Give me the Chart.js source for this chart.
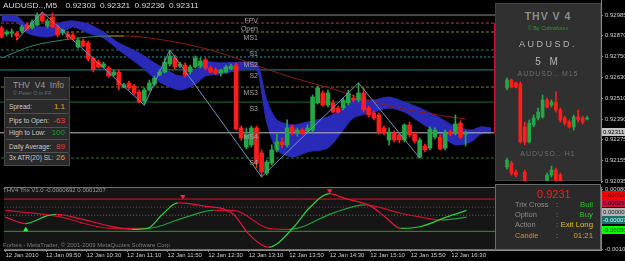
<!DOCTYPE html>
<html><head><meta charset="utf-8">
<script src="https://cdn.jsdelivr.net/npm/chart.js@4.4.1/dist/chart.umd.min.js"></script>
<style>
*{box-sizing:border-box}
html,body{margin:0;padding:0;background:#000;overflow:hidden}
#wrap{position:relative;width:625px;height:261px;background:#000;font-family:"Liberation Sans",Arial,sans-serif}
canvas{position:absolute;display:block}
.a{position:absolute;white-space:nowrap;line-height:1}
.b{position:absolute}
.pl{position:absolute;right:367px;font-size:7px;color:#a4a4a4;line-height:1;white-space:nowrap}
.il{position:absolute;left:9px;font-size:6.6px;color:#c8c8c8;line-height:1;white-space:nowrap}
.iv{position:absolute;right:560px;font-size:8px;line-height:1;white-space:nowrap}
.sep{position:absolute;left:6px;width:62px;height:1px;background:#505050}
.ax{position:absolute;left:602px;width:23px;height:8px;font-size:6px;line-height:8px;padding-left:1px;white-space:nowrap;overflow:hidden}
.bl{position:absolute;left:515px;font-size:7.4px;color:#8c8c8c;line-height:1;white-space:nowrap}
.bc{position:absolute;left:556px;font-size:7.4px;color:#8c8c8c;line-height:1}
.br{position:absolute;right:32px;font-size:7.8px;line-height:1;white-space:nowrap}
</style></head><body><div id="wrap">
<canvas id="main" width="625" height="183" style="left:0;top:0"></canvas>
<canvas id="ind" width="625" height="78" style="left:0;top:183px"></canvas>

<div class="a" style="left:3px;top:2px;font-size:7px;color:#d8d8d8;transform:scaleX(1.2);transform-origin:0 0;word-spacing:1.5px">AUDUSD..,M5&nbsp; 0.92303 0.92321 0.92236 0.92311</div>

<div class="pl" style="top:16.5px">FPV</div>
<div class="pl" style="top:24.5px">Open</div>
<div class="pl" style="top:33.5px">MS1</div>
<div class="pl" style="top:49.5px">S1</div>
<div class="pl" style="top:60.5px">MS2</div>
<div class="pl" style="top:71.5px">S2</div>
<div class="pl" style="top:88.5px">MS3</div>
<div class="pl" style="top:105px">S3</div>
<div class="pl" style="top:133px">MS4</div>
<div class="pl" style="top:159px">S4</div>

<!-- left info box -->
<div class="b" style="left:4px;top:77px;width:66px;height:89px;background:#2a2a2a;border:1px solid #484848"></div>
<div class="a" style="left:13px;top:81px;font-size:8.5px;color:#9c9c9c">THV&nbsp; V4&nbsp; Info</div>
<div class="a" style="left:13px;top:91px;font-size:5.5px;color:#6c6c6c">© Peter O in FF</div>
<div class="sep" style="top:99px"></div>
<div class="il" style="top:104px">Spread:</div><div class="iv" style="top:103px;color:#e0a030">1.1</div>
<div class="sep" style="top:113px"></div>
<div class="il" style="top:118px">Pips to Open:</div><div class="iv" style="top:117px;color:#ff3a3a">-63</div>
<div class="sep" style="top:127px"></div>
<div class="il" style="top:130px">High to Low:</div><div class="iv" style="top:129px;color:#1a9a3a">100</div>
<div class="sep" style="top:139px"></div>
<div class="il" style="top:144px">Daily Average:</div><div class="iv" style="top:143px;color:#e03a3a">89</div>
<div class="sep" style="top:152px"></div>
<div class="il" style="top:155px">3x ATR(20) SL:</div><div class="iv" style="top:154px;color:#e0a030">26</div>

<!-- right panel -->
<div class="b" style="left:494px;top:23px;width:1px;height:110px;background:#d01030"></div>
<div class="b" style="left:495px;top:3px;width:106px;height:178px;background:#303030;border:1px solid #3e3e3e"></div>
<canvas id="mini" width="95" height="105" style="left:500px;top:76px"></canvas>
<div class="a" style="left:495px;width:106px;text-align:center;top:11px;font-size:10.5px;font-weight:bold;color:#8c8c8c;letter-spacing:1px">THV V 4</div>
<div class="a" style="left:495px;width:106px;text-align:center;top:26px;font-size:5.5px;color:#2c9a2c">© By Cobraforex</div>
<div class="a" style="left:495px;width:106px;text-align:center;top:40px;font-size:9px;color:#b4b4b4;letter-spacing:2.5px">AUDUSD.</div>
<div class="a" style="left:495px;width:106px;text-align:center;top:57px;font-size:10px;color:#b4b4b4;letter-spacing:3px">5 M</div>
<div class="a" style="left:495px;width:106px;text-align:center;top:70px;font-size:7px;color:#6e6e6e;letter-spacing:1px">AUDUSD.. M15</div>
<div class="a" style="left:495px;width:106px;text-align:center;top:150px;font-size:7px;color:#6e6e6e;letter-spacing:1px">AUDUSD.. H1</div>

<!-- current price on axis -->
<div class="ax" style="top:128px;background:#c4c4c4;color:#000">0.92311</div>

<!-- indicator texts -->
<div class="a" style="left:3px;top:187px;font-size:6px;color:#9a9a9a">THV4 Trix V1.0 -0.0000692 0.0001207</div>
<div class="a" style="left:3px;top:242px;font-size:6px;color:#7a7a7a">Forbes - MetaTrader, © 2001-2009 MetaQuotes Software Corp.</div>

<!-- bottom right box -->
<div class="b" style="left:495px;top:184px;width:106px;height:66px;background:#2a2a2a;border:1px solid #6a6a6a"></div>
<div class="a" style="left:537px;top:189px;font-size:11px;color:#ff1a1a">0.9231</div>
<div class="bl" style="top:201px">Trix Cross</div><div class="bc" style="top:201px">:</div><div class="br" style="top:201px;color:#2ac02a">Bull</div>
<div class="bl" style="top:211px">Option</div><div class="bc" style="top:211px">:</div><div class="br" style="top:211px;color:#2ac02a">Buy</div>
<div class="bl" style="top:221px">Action</div><div class="bc" style="top:221px">:</div><div class="br" style="top:221px;color:#e0c020">Exit Long</div>
<div class="bl" style="top:232px;color:#e08a20">Candle</div><div class="bc" style="top:232px">:</div><div class="br" style="top:232px;color:#e0a020">01:21</div>

<!-- indicator axis line labels -->
<div class="ax" style="top:191px;background:#ff0000;color:#400">0.00050</div>
<div class="ax" style="top:199px;background:#c8103c;color:#300">0.00025</div>
<div class="ax" style="top:208px;background:#b4b4b4;color:#222">0.00000</div>
<div class="ax" style="top:216px;background:#1a7070;color:#cfe">-0.00007</div>
<div class="ax" style="top:226px;background:#00ff00;color:#030">-0.00050</div>
</div>
<script>
// ---------- DATA ----------
const tickLabels = ['12 Jan 2010','12 Jan 09:50','12 Jan 10:30','12 Jan 11:10','12 Jan 11:50','12 Jan 12:30','12 Jan 13:10','12 Jan 13:50','12 Jan 14:30','12 Jan 15:10','12 Jan 15:50','12 Jan 16:30'];
const tickBars = [0,8,16,24,32,40,48,56,64,72,80,88];
const priceTicks = [0.92985,0.92870,0.92750,0.92630,0.92510,0.92390,0.92275,0.92155,0.92035];

const open = [0.92911,0.92876,0.92882,0.92882,0.92893,0.92928,0.92911,0.92928,0.92991,0.92922,
0.92974,0.92917,0.92882,0.92876,0.92871,0.92802,0.92836,0.92825,0.92739,0.92716,
0.92688,0.92682,0.92642,0.92659,0.92573,0.92596,0.92579,0.92545,0.92493,0.92556,
0.92590,0.92642,0.92659,0.92705,0.92739,0.92693,0.92699,0.92659,0.92688,0.92693,
0.92728,0.92682,0.92671,0.92653,0.92659,0.92676,0.92699,0.92339,0.92230,0.92242,
0.92339,0.92196,0.92081,0.92138,0.92213,0.92259,0.92242,0.92345,0.92310,0.92327,
0.92322,0.92327,0.92482,0.92539,0.92470,0.92482,0.92453,0.92453,0.92482,0.92510,
0.92499,0.92539,0.92453,0.92425,0.92413,0.92339,0.92270,0.92310,0.92299,0.92270,
0.92356,0.92304,0.92173,0.92236,0.92224,0.92287,0.92287,0.92224,0.92316,0.92310,
0.92367,0.92303];
const high = [0.92922,0.92899,0.92905,0.92888,0.92928,0.92939,0.92957,0.92997,0.93002,0.92962,
0.92997,0.92928,0.92905,0.92888,0.92882,0.92854,0.92848,0.92836,0.92745,0.92728,
0.92716,0.92693,0.92671,0.92671,0.92596,0.92607,0.92590,0.92556,0.92568,0.92613,
0.92636,0.92671,0.92739,0.92785,0.92756,0.92716,0.92711,0.92699,0.92751,0.92739,
0.92739,0.92693,0.92682,0.92676,0.92699,0.92705,0.92711,0.92350,0.92339,0.92350,
0.92350,0.92213,0.92156,0.92242,0.92304,0.92282,0.92385,0.92356,0.92339,0.92339,
0.92356,0.92528,0.92579,0.92550,0.92556,0.92499,0.92464,0.92510,0.92556,0.92528,
0.92596,0.92568,0.92464,0.92436,0.92425,0.92350,0.92339,0.92322,0.92310,0.92362,
0.92373,0.92316,0.92282,0.92247,0.92345,0.92339,0.92299,0.92327,0.92327,0.92413,
0.92379,0.92321];
const low = [0.92854,0.92865,0.92859,0.92842,0.92882,0.92899,0.92905,0.92922,0.92945,0.92911,
0.92911,0.92859,0.92871,0.92848,0.92842,0.92796,0.92802,0.92722,0.92659,0.92682,
0.92682,0.92630,0.92636,0.92556,0.92568,0.92556,0.92528,0.92482,0.92470,0.92550,
0.92579,0.92636,0.92653,0.92693,0.92676,0.92682,0.92630,0.92648,0.92682,0.92682,
0.92671,0.92653,0.92642,0.92636,0.92653,0.92671,0.92327,0.92270,0.92219,0.92230,
0.92110,0.92059,0.92070,0.92127,0.92202,0.92224,0.92230,0.92299,0.92293,0.92299,
0.92310,0.92316,0.92476,0.92464,0.92459,0.92425,0.92425,0.92442,0.92470,0.92487,
0.92487,0.92430,0.92402,0.92385,0.92304,0.92299,0.92242,0.92259,0.92253,0.92259,
0.92287,0.92253,0.92167,0.92202,0.92213,0.92276,0.92213,0.92213,0.92293,0.92299,
0.92276,0.92236];
const close = [0.92859,0.92888,0.92888,0.92865,0.92917,0.92905,0.92945,0.92985,0.92951,0.92951,
0.92917,0.92871,0.92899,0.92859,0.92848,0.92842,0.92808,0.92734,0.92671,0.92688,
0.92705,0.92636,0.92659,0.92585,0.92585,0.92568,0.92539,0.92487,0.92556,0.92596,
0.92625,0.92659,0.92716,0.92751,0.92688,0.92705,0.92642,0.92688,0.92739,0.92722,
0.92682,0.92659,0.92653,0.92671,0.92688,0.92693,0.92333,0.92282,0.92299,0.92339,
0.92138,0.92087,0.92144,0.92213,0.92259,0.92242,0.92339,0.92316,0.92327,0.92310,
0.92339,0.92516,0.92568,0.92470,0.92539,0.92430,0.92430,0.92499,0.92539,0.92499,
0.92539,0.92442,0.92413,0.92396,0.92316,0.92310,0.92316,0.92270,0.92270,0.92356,
0.92299,0.92264,0.92270,0.92213,0.92333,0.92327,0.92219,0.92316,0.92304,0.92362,
0.92287,0.92311];

const bidPrice = 0.92311;
const pivotLevels = [0.92985,0.92939,0.92888,0.92785,0.92745,0.92671,0.92573,0.92487,0.92167];

const maBars   = [0,6,12,17,21,24,29,35,41,47,52,58,65,73,82,91];
const maValues = [0.92739,0.92808,0.92842,0.92859,0.92865,0.92865,0.92854,0.92825,0.92785,0.92728,0.92676,0.92619,0.92562,0.92487,0.92430,0.92390];

const zigBars   = [3,8,28,33,51,70,82];
const zigValues = [0.92842,0.93002,0.92470,0.92785,0.92059,0.92596,0.92167];

const cloudBars = [0,3,5,9,12,14,17,20,23,27,31,35,38,40,43,47,50,51,52,54,57,60,64,67,69,73,76,79,82,86,89,92,94,96];
const spanA = [0.92985,0.92979,0.92928,0.92917,0.92945,0.92951,0.92934,0.92888,0.92825,0.92768,0.92693,0.92636,0.92671,0.92716,0.92711,0.92716,0.92711,0.92625,0.92499,0.92385,0.92356,0.92373,0.92402,0.92453,0.92499,0.92499,0.92516,0.92487,0.92453,0.92396,0.92345,0.92327,0.92345,0.92339];
const spanB = [0.92951,0.92945,0.92882,0.92859,0.92888,0.92917,0.92882,0.92854,0.92785,0.92699,0.92602,0.92556,0.92590,0.92636,0.92648,0.92671,0.92671,0.92545,0.92373,0.92213,0.92173,0.92202,0.92224,0.92327,0.92396,0.92430,0.92453,0.92430,0.92373,0.92299,0.92242,0.92259,0.92304,0.92310];

const trixFastBars = [0,4,8,10,15,21,25,28,31,34,39,45,48,52,57,60,64,67,72,75,78,82,87,91];
const trixFast = [-0.00006,-0.00026,-0.00003,0.00003,-0.00012,-0.00035,-0.00044,-0.00041,0.00003,0.00038,0.00029,0.00003,-0.00058,-0.00099,-0.00035,0.00023,0.00067,0.00052,0.00029,-0.00006,-0.00041,-0.00035,-0.00006,0.00015];
const trixSlowBars = [0,10,21,28,35,41,45,52,56,65,71,78,82,86,91];
const trixSlow = [0.00015,-0.00003,-0.00041,-0.00041,-0.00009,0.00015,0.00015,-0.00041,-0.00044,0.00009,0.00032,0.00006,-0.00006,-0.00015,-0.00006];
const trixLevels = [0.0005,0.00025,0,-0.0005];
const trixTicks = [0.0008,-0.00107];
const buyArrowBars = [4],  buyArrowValues = [-0.00045];
const sellArrowBars = [35,64], sellArrowValues = [0.00058,0.00076];

const m15Open  = [0.92568,0.92613,0.92596,0.92590,0.92345,0.92259,0.92356,0.92396,0.92402,0.92499,0.92470,0.92487,0.92442,0.92396,0.92373,0.92345,0.92402,0.92396,0.92390];
const m15High  = [0.92625,0.92619,0.92602,0.92602,0.92373,0.92385,0.92413,0.92453,0.92528,0.92510,0.92499,0.92545,0.92453,0.92407,0.92385,0.92413,0.92442,0.92407,0.92407];
const m15Low   = [0.92556,0.92568,0.92568,0.92253,0.92242,0.92253,0.92345,0.92385,0.92396,0.92453,0.92459,0.92430,0.92373,0.92356,0.92339,0.92327,0.92373,0.92362,0.92385];
const m15Close = [0.92613,0.92573,0.92573,0.92259,0.92259,0.92367,0.92396,0.92430,0.92499,0.92459,0.92487,0.92442,0.92385,0.92367,0.92345,0.92402,0.92385,0.92373,0.92396];
const h1Open  = [0.92116,0.92138,0.92087,0.92030,0.92087,0.91984,0.91927,0.91950,0.91984,0.91996,0.92070,0.92099,0.92070];
const h1High  = [0.92167,0.92150,0.92099,0.92036,0.92099,0.91996,0.91938,0.91996,0.92019,0.92081,0.92121,0.92110,0.92081];
const h1Low   = [0.92104,0.92070,0.92059,0.91973,0.91973,0.91898,0.91910,0.91938,0.91973,0.91984,0.92059,0.91973,0.91973];
const h1Close = [0.92156,0.92081,0.92070,0.91984,0.91984,0.91927,0.91956,0.91984,0.92007,0.92070,0.92099,0.91984,0.91984];

// ---------- STYLE ----------
const BULL = '#22a846', BEAR = '#ff1c1c';
const FONT = '"Liberation Sans", Arial, sans-serif';
const pivotStyles = [
  {c:'#8c8c8c', d:[]}, {c:'#b8306c', d:[3,2]}, {c:'#8a8a22', d:[3,2]}, {c:'#1f7a62', d:[3,2]},
  {c:'#1c9ab4', d:[2,2]}, {c:'#1a8c8c', d:[]}, {c:'#7c7c22', d:[3,2]}, {c:'#1a6e2a', d:[]}, {c:'#1f7a2a', d:[3,2]}
];
const levelStyles = [{c:'#e41020',d:[]},{c:'#8c3a54',d:[1,2]},{c:'#6c6c6c',d:[1,2]},{c:'#20a420',d:[]}];
const X_MIN = -0.294, X_MAX = 117.55;

const pts = (bars, vals) => bars.map((b,k)=>({x:b, y:vals[k]}));
const dirColor = (up, down, flat) => ctx => {
  const d = ctx.p1.parsed.y - ctx.p0.parsed.y;
  return d > 1e-6 ? up : (d < -1e-6 ? down : flat);
};
function yAxisFix(w){ return function(s){ s.width = w; s.paddingTop = 0; s.paddingBottom = 0; }; }
function candleSets(o,h,l,c,xs,bodyW,order){
  const col = o.map((v,i)=> c[i] >= v ? BULL : BEAR);
  return [
    {type:'bar', data:o.map((v,i)=>({x:xs(i), y:[l[i],h[i]]})), backgroundColor:col, barThickness:1, grouped:false, order:order+1},
    {type:'bar', data:o.map((v,i)=>({x:xs(i), y:[v,c[i]]})), backgroundColor:col, barThickness:bodyW, grouped:false, minBarLength:1, order:order}
  ];
}
const panelBg = { id:'panelBg', beforeDraw(chart, args, opts){
  const {ctx, chartArea:a} = chart; ctx.save();
  ctx.fillStyle = opts.color; ctx.fillRect(a.left, a.top, a.right-a.left, a.bottom-a.top);
  if (opts.frame){ ctx.strokeStyle = opts.frame; ctx.lineWidth = 1;
    ctx.beginPath(); ctx.moveTo(a.left, a.top+0.5); ctx.lineTo(a.right, a.top+0.5);
    ctx.moveTo(a.left, a.bottom-0.5); ctx.lineTo(a.right, a.bottom-0.5); ctx.stroke(); }
  ctx.restore(); } };

Chart.defaults.font.family = FONT;
Chart.defaults.animation = false;

// ---------- MAIN PRICE CHART ----------
const mainSets = [];
mainSets.push({type:'line', data:pts(zigBars, zigValues), borderColor:'#6c92bc', borderWidth:1, pointRadius:0, order:0});
mainSets.push(...candleSets(open,high,low,close,i=>i,4,1));
mainSets.push({type:'line', data:pts(maBars, maValues), borderWidth:1, pointRadius:0, cubicInterpolationMode:'monotone',
  segment:{borderColor: dirColor('#2a8a5c','#8c1a1a','#c8a020')}, borderColor:'#8c1a1a', order:3});
mainSets.push({type:'line', data:[{x:-5,y:bidPrice},{x:130,y:bidPrice}], borderColor:'#bcbcbc', borderWidth:1, pointRadius:0, order:4});
mainSets.push({type:'line', data:pts(cloudBars, spanA), borderColor:'#2a2ab4', backgroundColor:'#2a2ab8', borderWidth:1, pointRadius:0, tension:0.25, fill:'+1', order:5});
mainSets.push({type:'line', data:pts(cloudBars, spanB), borderColor:'#2a2ab4', borderWidth:1, pointRadius:0, tension:0.25, fill:false, order:5});
pivotLevels.forEach((lv,k)=> mainSets.push({type:'line', data:[{x:-5,y:lv},{x:130,y:lv}], borderColor:pivotStyles[k].c,
  borderDash:pivotStyles[k].d, borderWidth:1, pointRadius:0, order:6}));

new Chart(document.getElementById('main'), {
  type:'bar',
  data:{datasets:mainSets},
  options:{responsive:false, events:[], layout:{padding:0},
    plugins:{legend:{display:false}, tooltip:{enabled:false}},
    scales:{
      x:{type:'linear', display:false, min:X_MIN, max:X_MAX, offset:false},
      y:{position:'right', min:0.92024, max:0.93071,
         afterBuildTicks:s=>{ s.ticks = priceTicks.map(v=>({value:v})); },
         afterFit:yAxisFix(24),
         ticks:{callback:v=>Number(v).toFixed(5), color:'#cfcfcf', font:{size:6}, padding:2},
         grid:{drawOnChartArea:false, tickLength:2, color:'#8a8a8a'},
         border:{color:'#8a8a8a'}}
    }}
});

// ---------- TRIX INDICATOR ----------
const indSets = [];
indSets.push({type:'line', data:pts(buyArrowBars, buyArrowValues), showLine:false, pointStyle:'triangle', pointRadius:3, pointBackgroundColor:'#22ff44', pointBorderWidth:0, order:0});
indSets.push({type:'line', data:pts(sellArrowBars, sellArrowValues), showLine:false, pointStyle:'triangle', rotation:180, pointRadius:3, pointBackgroundColor:'#ff2244', pointBorderWidth:0, order:0});
indSets.push({type:'line', data:pts(trixFastBars, trixFast), borderWidth:1.2, pointRadius:0, cubicInterpolationMode:'monotone',
  borderColor:'#e0103a', segment:{borderColor: dirColor('#2ed040','#e8103c','#e8103c')}, order:1});
indSets.push({type:'line', data:pts(trixSlowBars, trixSlow), borderWidth:1.2, pointRadius:0, cubicInterpolationMode:'monotone',
  borderColor:'#c0102c', segment:{borderColor: dirColor('#1f9c3c','#c8102e','#c8102e')}, order:2});
trixLevels.forEach((lv,k)=> indSets.push({type:'line', data:[{x:-5,y:lv},{x:130,y:lv}], borderColor:levelStyles[k].c,
  borderDash:levelStyles[k].d, borderWidth:1, pointRadius:0, order:3}));

new Chart(document.getElementById('ind'), {
  type:'line',
  data:{datasets:indSets},
  plugins:[panelBg],
  options:{responsive:false, events:[], layout:{padding:0},
    plugins:{legend:{display:false}, tooltip:{enabled:false}, panelBg:{color:'#151515', frame:'#707070'}},
    scales:{
      x:{type:'linear', min:X_MIN, max:X_MAX, offset:false,
         afterBuildTicks:s=>{ s.ticks = tickBars.map(v=>({value:v})); },
         afterFit:s=>{ s.height = 11; s.paddingLeft = 0; s.paddingRight = 0; },
         ticks:{callback:v=>tickLabels[tickBars.indexOf(v)], align:'start', maxRotation:0, autoSkip:false, color:'#cfcfcf', font:{size:6}, padding:0},
         grid:{drawOnChartArea:false, tickLength:2, color:'#8a8a8a'}, border:{color:'#8a8a8a'}},
      y:{position:'right', min:-0.001079, max:0.000875,
         afterBuildTicks:s=>{ s.ticks = trixTicks.map(v=>({value:v})); },
         afterFit:yAxisFix(24),
         ticks:{callback:v=>Number(v).toFixed(5), color:'#cfcfcf', font:{size:6}, padding:2},
         grid:{drawOnChartArea:false, tickLength:2, color:'#8a8a8a'}, border:{color:'#8a8a8a'}}
    }}
});

// ---------- MINI M15 / H1 CHART ----------
const miniSets = [...candleSets(m15Open,m15High,m15Low,m15Close,i=>i,3,0), ...candleSets(h1Open,h1High,h1Low,h1Close,i=>i,3,2)];
new Chart(document.getElementById('mini'), {
  type:'bar',
  data:{datasets:miniSets},
  options:{responsive:false, events:[], layout:{padding:0},
    plugins:{legend:{display:false}, tooltip:{enabled:false}},
    scales:{x:{type:'linear', display:false, min:-1.57, max:19.78, offset:false},
            y:{display:false, min:0.92036, max:0.92636}}}
});
</script>
</body></html>
